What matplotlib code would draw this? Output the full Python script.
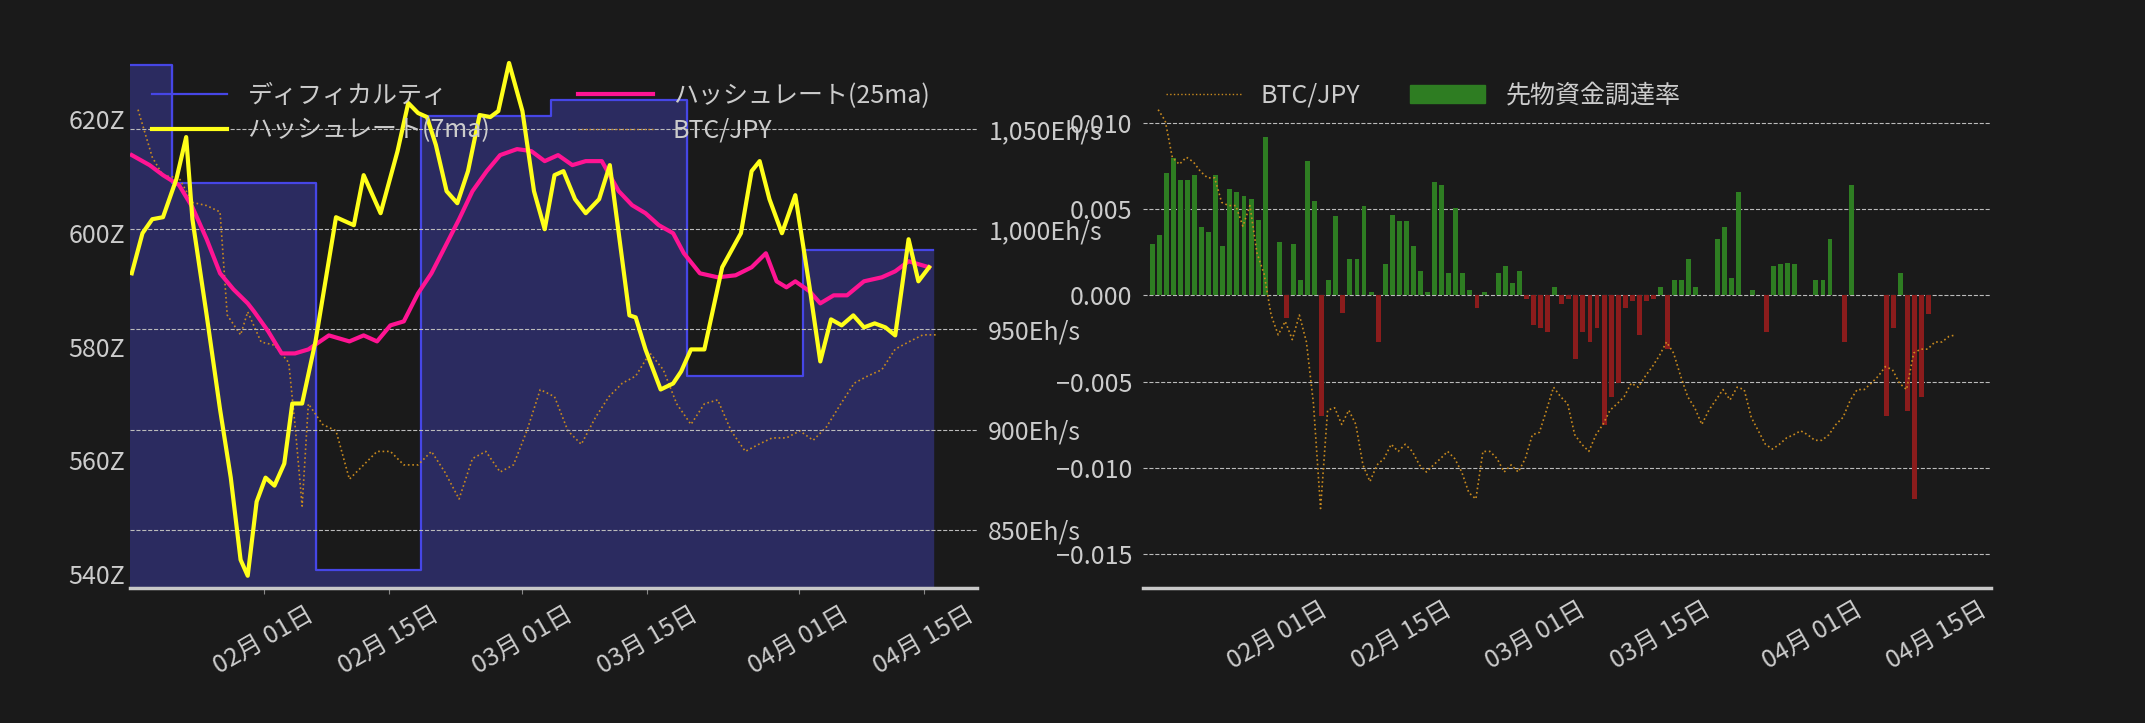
import matplotlib
matplotlib.use("Agg")
import matplotlib.pyplot as plt
import matplotlib.dates as mdates
import matplotlib.ticker as mticker
from matplotlib.patches import Patch
from matplotlib.lines import Line2D
import numpy as np
import pandas as pd

plt.rcParams['font.family'] = ['Noto Sans CJK JP', 'DejaVu Sans']
plt.rcParams['axes.unicode_minus'] = True

BASE = pd.Timestamp('2024-02-01')

# ---- Left panel data (day offsets from 2024-02-01) ----
diff_days = [-15, -10.3, 5.9, 17.6, 32.2, 47.4, 60.5, 75.0]
diff_vals = [629.6, 608.7, 540.7, 620.5, 623.4, 574.8, 597.0, 597.0]

hr7_days = [-14.8, -13.6, -12.5, -11.3, -9.8, -8.7, -8.0, -6.4, -4.9, -3.7, -2.6, -1.8, -0.8, 0.2, 1.2, 2.3,
            3.2, 4.3, 5.8, 8.1, 10.1, 11.2, 13.1, 15.0, 16.2, 17.3, 18.3, 19.3, 20.5, 21.7, 22.9, 24.2,
            25.4, 26.3, 27.5, 29.0, 30.3, 31.5, 32.6, 33.6, 34.9, 36.1, 37.6, 38.8, 39.8, 41.0, 41.7,
            42.8, 44.5, 45.9, 46.8, 47.9, 49.4, 51.4, 53.5, 54.7, 55.6, 56.7, 58.1, 59.6, 61.2, 62.4,
            63.6, 64.8, 66.1, 67.3, 68.5, 69.7, 70.8, 72.3, 73.4, 74.6]
hr7_vals = [978, 998, 1005, 1006, 1025, 1046, 1005, 957, 910, 876, 835, 827, 864, 876, 872, 883,
            913, 913, 944, 1006, 1002, 1027, 1008, 1039, 1063, 1058, 1056, 1042, 1019, 1013, 1029, 1057,
            1056, 1059, 1083, 1059, 1019, 1000, 1027, 1029, 1015, 1008, 1015, 1032, 998, 957, 956,
            940, 920, 923, 929, 940, 940, 981, 998, 1029, 1034, 1015, 998, 1017, 971, 934,
            955, 952, 957, 951, 953, 951, 947, 995, 974, 981]

hr25_days = [-14.8, -12.8, -11.3, -9.5, -8.0, -6.4, -4.9, -3.4, -1.8, -1.1, 0.5, 2.0, 3.5, 5.0, 7.3, 9.6,
             11.2, 12.7, 14.2, 15.7, 17.3, 18.8, 20.3, 21.9, 23.4, 25.0, 26.5, 28.4, 30.0, 31.5, 33.0,
             34.6, 36.1, 37.9, 39.8, 41.3, 42.8, 44.3, 45.9, 47.1, 48.9, 50.9, 52.9, 54.7, 56.3, 57.5,
             58.6, 59.6, 61.2, 62.4, 63.9, 65.4, 67.3, 69.3, 70.8, 72.3, 74.6]
hr25_vals = [1037, 1032, 1027, 1022, 1011, 995, 978, 970, 963, 959, 949, 938, 938, 940, 947, 944,
             947, 944, 952, 954, 968, 978, 991, 1005, 1019, 1029, 1037, 1040, 1039, 1034, 1037,
             1032, 1034, 1034, 1019, 1012, 1008, 1002, 998, 988, 978, 976, 977, 981, 988, 974,
             971, 974, 969, 963, 967, 967, 974, 976, 979, 984, 981]

btcL_days = [-14.1, -12.5, -11.3, -9.5, -8.0, -6.4, -4.9, -4.1, -2.6, -1.8, -0.3, 1.2, 2.8, 3.5, 4.3, 5.0,
             6.6, 8.1, 9.6, 11.2, 12.7, 14.2, 15.7, 17.3, 18.8, 20.3, 21.9, 23.4, 24.9, 26.5, 28.0,
             29.5, 31.0, 32.6, 34.1, 35.6, 37.2, 38.7, 40.2, 41.7, 43.3, 44.8, 46.3, 47.9, 49.4, 50.9,
             52.4, 54.0, 55.5, 57.0, 58.6, 60.1, 61.6, 63.1, 64.7, 66.2, 67.7, 69.3, 70.8, 72.3, 73.9, 75.4]
btcL_vals = [11.0, 10.40, 10.17, 10.14, 9.83, 9.79, 9.71, 8.41, 8.16, 8.45, 8.07, 8.03, 7.81, 7.03, 6.00, 7.29,
             7.03, 6.95, 6.34, 6.52, 6.69, 6.69, 6.52, 6.52, 6.69, 6.43, 6.09, 6.60, 6.69, 6.43, 6.52,
             6.95, 7.47, 7.38, 6.95, 6.78, 7.12, 7.38, 7.55, 7.64, 7.93, 7.72, 7.29, 7.03, 7.29, 7.34,
             6.95, 6.69, 6.78, 6.86, 6.86, 6.95, 6.83, 7.00, 7.29, 7.55, 7.64, 7.72, 7.98, 8.07, 8.16, 8.16]

# ---- Right panel data ----
funding = [0.0030, 0.0035, 0.0071, 0.0080, 0.0067, 0.0067, 0.0070, 0.0040, 0.0037, 0.0070, 0.0029, 0.0062,
           0.0060, 0.0058, 0.0056, 0.0044, 0.0092, 0.0000, 0.0031, -0.0013, 0.0030, 0.0009, 0.0078, 0.0055,
           -0.0070, 0.0009, 0.0046, -0.0010, 0.0021, 0.0021, 0.0052, 0.0002, -0.0027, 0.0018, 0.0047, 0.0043,
           0.0043, 0.0029, 0.0014, 0.0002, 0.0066, 0.0064, 0.0013, 0.0051, 0.0013, 0.0003, -0.0007, 0.0002,
           0.0000, 0.0013, 0.0017, 0.0007, 0.0014, -0.0002, -0.0017, -0.0019, -0.0021, 0.0005, -0.0005,
           -0.0002, -0.0037, -0.0021, -0.0027, -0.0019, -0.0075, -0.0059, -0.0051, -0.0007, -0.0003,
           -0.0023, -0.0003, -0.0002, 0.0005, -0.0031, 0.0009, 0.0009, 0.0021, 0.0005, 0.0000, 0.0000,
           0.0033, 0.0040, 0.0010, 0.0060, 0.0000, 0.0003, 0.0000, -0.0021, 0.0017, 0.0018, 0.0019, 0.0018,
           0.0000, 0.0000, 0.0009, 0.0009, 0.0033, 0.0000, -0.0027, 0.0064, 0.0000, 0.0000, 0.0000, 0.0000,
           -0.0070, -0.0019, 0.0013, -0.0067, -0.0118, -0.0059, -0.0011]

btcR_vals = [11.00, 10.86, 10.40, 10.31, 10.40, 10.34, 10.22, 10.14, 10.14, 9.83, 9.79, 9.79, 9.53, 9.79,
             9.19, 8.93, 8.41, 8.16, 8.33, 8.10, 8.41, 8.07, 7.29, 5.97, 7.21, 7.24, 7.03, 7.21, 7.03, 6.52,
             6.31, 6.52, 6.60, 6.78, 6.69, 6.78, 6.69, 6.52, 6.43, 6.52, 6.60, 6.69, 6.60, 6.43, 6.17, 6.09,
             6.69, 6.69, 6.60, 6.43, 6.52, 6.43, 6.60, 6.90, 6.93, 7.21, 7.50, 7.38, 7.29, 6.90, 6.78, 6.69,
             6.90, 7.03, 7.21, 7.29, 7.38, 7.55, 7.50, 7.64, 7.76, 7.90, 8.07, 7.93, 7.64, 7.38, 7.24, 7.03,
             7.21, 7.34, 7.47, 7.34, 7.50, 7.47, 7.12, 6.95, 6.78, 6.72, 6.78, 6.86, 6.90, 6.95, 6.90, 6.83,
             6.83, 6.90, 7.03, 7.12, 7.33, 7.47, 7.47, 7.55, 7.64, 7.76, 7.72, 7.55, 7.47, 7.93, 7.98, 7.98,
             8.07, 8.07, 8.14, 8.16]

tick_dates = ['2024-02-01', '2024-02-15', '2024-03-01', '2024-03-15', '2024-04-01', '2024-04-15']

BG = '#1a1a1a'
TXT = '#cccccc'
FS = 18

def to_dates(days):
    return [BASE + pd.Timedelta(days=d) for d in days]

fig = plt.figure(figsize=(21.45, 7.23), dpi=100, facecolor=BG)

def style(ax):
    ax.set_facecolor('none')
    for s in ax.spines.values():
        s.set_visible(False)
    ax.tick_params(colors=TXT, labelsize=FS, length=0)

def date_axis(a):
    a.set_xlim(pd.Timestamp('2024-01-17'), pd.Timestamp('2024-04-21'))
    a.xaxis.set_major_locator(mticker.FixedLocator(mdates.date2num(pd.to_datetime(tick_dates))))
    a.xaxis.set_major_formatter(mdates.DateFormatter('%m月 %d日'))
    for lab in a.get_xticklabels():
        lab.set_rotation(30); lab.set_ha('center')
    a.spines['bottom'].set_visible(True)
    a.spines['bottom'].set_color('#c8c8c8')
    a.spines['bottom'].set_linewidth(2.5)

# ---------- Left ----------
ax = fig.add_axes([0.0606, 0.187, 0.395, 0.737])
ax.set_facecolor(BG)
style(ax)
dd = to_dates(diff_days)
ax.fill_between(dd, diff_vals, 500, step='post', color='#2b2b60', zorder=1)
ax.step(dd, diff_vals, where='post', color='#4646e6', lw=1.6, zorder=2)
ax.set_ylim(537.6, 631.3)
ax.yaxis.set_major_locator(mticker.FixedLocator([540, 560, 580, 600, 620]))
ax.yaxis.set_major_formatter(mticker.FuncFormatter(lambda v, p: f'{v:.0f}Z'))
date_axis(ax)
ax.tick_params(axis='x', length=4, color='#888888', pad=6)

ax3 = ax.twinx()
style(ax3)
ax3.plot(to_dates(btcL_days), btcL_vals, color='#c88a1e', lw=1.2, ls=':', zorder=3)
ax3.set_ylim(4.97, 11.69)
ax3.set_yticks([])

ax2 = ax.twinx()
style(ax2)
ax2.plot(to_dates(hr25_days), hr25_vals, color='#ff1493', lw=3, zorder=4)
ax2.plot(to_dates(hr7_days), hr7_vals, color='#ffff1a', lw=3, zorder=5)
ax2.set_ylim(821, 1087)
ax2.yaxis.set_major_locator(mticker.FixedLocator([850, 900, 950, 1000, 1050]))
ax2.yaxis.set_major_formatter(mticker.FuncFormatter(lambda v, p: f'{v:,.0f}Eh/s'))
ax2.tick_params(axis='y', pad=8)
ax2.grid(axis='y', color='#bbbbbb', ls='--', lw=0.8)
ax2.set_xlim(ax.get_xlim())
ax3.set_xlim(ax.get_xlim())

handlesL = [Line2D([], [], color='#4646e6', lw=1.6),
            Line2D([], [], color='#ffff1a', lw=3),
            Line2D([], [], color='#ff1493', lw=3),
            Line2D([], [], color='#c88a1e', lw=1, ls=':')]
labelsL = ['ディフィカルティ', 'ハッシュレート(7ma)', 'ハッシュレート(25ma)', 'BTC/JPY']
leg = ax2.legend(handlesL, labelsL, ncol=2, loc='upper left', bbox_to_anchor=(0.0, 0.99),
                 frameon=False, fontsize=FS, labelcolor=TXT, columnspacing=3.5, handlelength=3,
                 labelspacing=0.35)
leg.set_zorder(10)

# ---------- Right ----------
bx = fig.add_axes([0.533, 0.187, 0.395, 0.737])
bx.set_facecolor(BG)
style(bx)
step = pd.Timedelta(hours=19)
bar_dates = [pd.Timestamp('2024-01-18 00:00') + i * step for i in range(len(funding))]
btc_dates = [pd.Timestamp('2024-01-18 16:00') + i * step for i in range(len(btcR_vals))]
cols = ['#2e7d22' if v >= 0 else '#8b1c1c' for v in funding]
bx.bar(bar_dates, funding, width=0.55, color=cols, zorder=2)
bx.set_ylim(-0.01698, 0.01397)
bx.yaxis.tick_right()
bx.yaxis.set_major_locator(mticker.FixedLocator([-0.015, -0.010, -0.005, 0.0, 0.005, 0.010]))
bx.yaxis.set_major_formatter(mticker.FuncFormatter(lambda v, p: f'{v:.3f}'.replace('-', '\u2212')))
bx.tick_params(axis='y', pad=8)
bx.grid(axis='y', color='#bbbbbb', ls='--', lw=0.8)
date_axis(bx)
bx.tick_params(axis='x', length=0, pad=6)

bx2 = bx.twinx()
style(bx2)
bx2.plot(btc_dates, btcR_vals, color='#c88a1e', lw=1.2, ls=':', zorder=3)
bx2.set_ylim(4.97, 11.69)
bx2.set_yticks([])
bx2.set_xlim(bx.get_xlim())

handlesR = [Line2D([], [], color='#c88a1e', lw=1, ls=':'), Patch(color='#2e7d22')]
bx2.legend(handlesR, ['BTC/JPY', '先物資金調達率'], ncol=2, loc='upper left',
           bbox_to_anchor=(0.0, 0.99), frameon=False, fontsize=FS, labelcolor=TXT,
           columnspacing=2, handlelength=3)

fig.savefig('out.png', dpi=100, facecolor=BG)
